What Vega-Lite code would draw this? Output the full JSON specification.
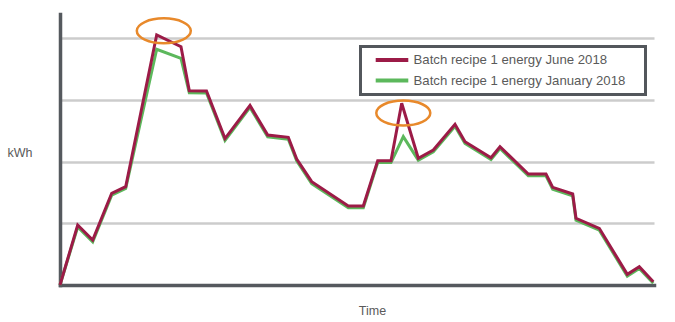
{
  "$schema": "https://vega.github.io/schema/vega-lite/v6.json",
  "width": 594,
  "height": 271,
  "autosize": {"type": "none"},
  "padding": {"left": 60, "top": 14, "right": 21, "bottom": 37},
  "background": "white",
  "config": {
    "view": {"stroke": null},
    "font": "Liberation Sans"
  },
  "datasets": {
    "lines": [
      {"series": "Batch recipe 1 energy January 2018", "time": 0, "kwh": 0},
      {"series": "Batch recipe 1 energy January 2018", "time": 17.7, "kwh": 0.94},
      {"series": "Batch recipe 1 energy January 2018", "time": 32.7, "kwh": 0.70},
      {"series": "Batch recipe 1 energy January 2018", "time": 51.7, "kwh": 1.455},
      {"series": "Batch recipe 1 energy January 2018", "time": 65.7, "kwh": 1.562},
      {"series": "Batch recipe 1 energy January 2018", "time": 96.7, "kwh": 3.818},
      {"series": "Batch recipe 1 energy January 2018", "time": 121, "kwh": 3.671},
      {"series": "Batch recipe 1 energy January 2018", "time": 129.3, "kwh": 3.115},
      {"series": "Batch recipe 1 energy January 2018", "time": 146.5, "kwh": 3.11},
      {"series": "Batch recipe 1 energy January 2018", "time": 165, "kwh": 2.34},
      {"series": "Batch recipe 1 energy January 2018", "time": 190, "kwh": 2.877},
      {"series": "Batch recipe 1 energy January 2018", "time": 207.7, "kwh": 2.40},
      {"series": "Batch recipe 1 energy January 2018", "time": 228.3, "kwh": 2.362},
      {"series": "Batch recipe 1 energy January 2018", "time": 236.7, "kwh": 2.01},
      {"series": "Batch recipe 1 energy January 2018", "time": 251.7, "kwh": 1.643},
      {"series": "Batch recipe 1 energy January 2018", "time": 288.3, "kwh": 1.25},
      {"series": "Batch recipe 1 energy January 2018", "time": 303.3, "kwh": 1.25},
      {"series": "Batch recipe 1 energy January 2018", "time": 317.7, "kwh": 1.983},
      {"series": "Batch recipe 1 energy January 2018", "time": 331, "kwh": 1.983},
      {"series": "Batch recipe 1 energy January 2018", "time": 343.3, "kwh": 2.402},
      {"series": "Batch recipe 1 energy January 2018", "time": 358.3, "kwh": 2.022},
      {"series": "Batch recipe 1 energy January 2018", "time": 373.3, "kwh": 2.156},
      {"series": "Batch recipe 1 energy January 2018", "time": 395, "kwh": 2.572},
      {"series": "Batch recipe 1 energy January 2018", "time": 405, "kwh": 2.291},
      {"series": "Batch recipe 1 energy January 2018", "time": 431, "kwh": 2.032},
      {"series": "Batch recipe 1 energy January 2018", "time": 440, "kwh": 2.21},
      {"series": "Batch recipe 1 energy January 2018", "time": 468.3, "kwh": 1.768},
      {"series": "Batch recipe 1 energy January 2018", "time": 486, "kwh": 1.768},
      {"series": "Batch recipe 1 energy January 2018", "time": 492.7, "kwh": 1.552},
      {"series": "Batch recipe 1 energy January 2018", "time": 512.7, "kwh": 1.444},
      {"series": "Batch recipe 1 energy January 2018", "time": 516, "kwh": 1.05},
      {"series": "Batch recipe 1 energy January 2018", "time": 539.3, "kwh": 0.888},
      {"series": "Batch recipe 1 energy January 2018", "time": 567.3, "kwh": 0.143},
      {"series": "Batch recipe 1 energy January 2018", "time": 579.3, "kwh": 0.266},
      {"series": "Batch recipe 1 energy January 2018", "time": 593.3, "kwh": 0.03},
      {"series": "Batch recipe 1 energy June 2018", "time": 0, "kwh": 0},
      {"series": "Batch recipe 1 energy June 2018", "time": 17.7, "kwh": 0.972},
      {"series": "Batch recipe 1 energy June 2018", "time": 32.7, "kwh": 0.729},
      {"series": "Batch recipe 1 energy June 2018", "time": 51.7, "kwh": 1.485},
      {"series": "Batch recipe 1 energy June 2018", "time": 65.7, "kwh": 1.592},
      {"series": "Batch recipe 1 energy June 2018", "time": 96.7, "kwh": 4.049},
      {"series": "Batch recipe 1 energy June 2018", "time": 121, "kwh": 3.859},
      {"series": "Batch recipe 1 energy June 2018", "time": 129.3, "kwh": 3.147},
      {"series": "Batch recipe 1 energy June 2018", "time": 146.5, "kwh": 3.142},
      {"series": "Batch recipe 1 energy June 2018", "time": 165, "kwh": 2.372},
      {"series": "Batch recipe 1 energy June 2018", "time": 190, "kwh": 2.907},
      {"series": "Batch recipe 1 energy June 2018", "time": 207.7, "kwh": 2.429},
      {"series": "Batch recipe 1 energy June 2018", "time": 228.3, "kwh": 2.392},
      {"series": "Batch recipe 1 energy June 2018", "time": 236.7, "kwh": 2.040},
      {"series": "Batch recipe 1 energy June 2018", "time": 251.7, "kwh": 1.673},
      {"series": "Batch recipe 1 energy June 2018", "time": 288.3, "kwh": 1.279},
      {"series": "Batch recipe 1 energy June 2018", "time": 303.3, "kwh": 1.279},
      {"series": "Batch recipe 1 energy June 2018", "time": 317.7, "kwh": 2.013},
      {"series": "Batch recipe 1 energy June 2018", "time": 331, "kwh": 2.013},
      {"series": "Batch recipe 1 energy June 2018", "time": 341.7, "kwh": 2.943},
      {"series": "Batch recipe 1 energy June 2018", "time": 358.3, "kwh": 2.052},
      {"series": "Batch recipe 1 energy June 2018", "time": 373.3, "kwh": 2.186},
      {"series": "Batch recipe 1 energy June 2018", "time": 395, "kwh": 2.602},
      {"series": "Batch recipe 1 energy June 2018", "time": 405, "kwh": 2.321},
      {"series": "Batch recipe 1 energy June 2018", "time": 431, "kwh": 2.062},
      {"series": "Batch recipe 1 energy June 2018", "time": 440, "kwh": 2.240},
      {"series": "Batch recipe 1 energy June 2018", "time": 468.3, "kwh": 1.798},
      {"series": "Batch recipe 1 energy June 2018", "time": 486, "kwh": 1.798},
      {"series": "Batch recipe 1 energy June 2018", "time": 492.7, "kwh": 1.582},
      {"series": "Batch recipe 1 energy June 2018", "time": 512.7, "kwh": 1.474},
      {"series": "Batch recipe 1 energy June 2018", "time": 516, "kwh": 1.080},
      {"series": "Batch recipe 1 energy June 2018", "time": 539.3, "kwh": 0.918},
      {"series": "Batch recipe 1 energy June 2018", "time": 567.3, "kwh": 0.173},
      {"series": "Batch recipe 1 energy June 2018", "time": 579.3, "kwh": 0.296},
      {"series": "Batch recipe 1 energy June 2018", "time": 593.3, "kwh": 0.053}
    ],
    "highlights": [
      {"time": 103.8, "kwh": 4.117},
      {"time": 343.3, "kwh": 2.785}
    ]
  },
  "layer": [
    {
      "data": {"name": "lines"},
      "transform": [{"filter": "datum.series === 'Batch recipe 1 energy January 2018'"}],
      "mark": {"type": "line", "strokeWidth": 3, "strokeJoin": "miter"},
      "encoding": {
        "x": {
          "field": "time", "type": "quantitative",
          "scale": {"domain": [0, 594], "nice": false, "zero": false},
          "axis": {
            "title": "Time", "labels": false, "ticks": false, "grid": false,
            "domainColor": "#55595e", "domainWidth": 3.5, "domainCap": "square",
            "titleFont": "Liberation Sans", "titleFontSize": 12.5, "titleFontWeight": "normal",
            "titleColor": "#5a5a5a", "titleAnchor": "start", "titleAlign": "center",
            "titleX": 312, "titleY": 29, "titleBaseline": "alphabetic"
          }
        },
        "y": {
          "field": "kwh", "type": "quantitative",
          "scale": {"domain": [0, 4.389], "nice": false},
          "axis": {
            "title": "kWh", "labels": false, "ticks": false, "grid": true,
            "values": [1, 2, 3, 4],
            "gridColor": "#cccccc", "gridWidth": 2.5,
            "domainColor": "#55595e", "domainWidth": 3.5, "domainCap": "square",
            "titleFont": "Liberation Sans", "titleFontSize": 12.5, "titleFontWeight": "normal",
            "titleColor": "#5a5a5a", "titleAngle": 0, "titleAlign": "center",
            "titleX": -40.5, "titleY": 142, "titleBaseline": "alphabetic"
          }
        },
        "color": {
          "field": "series", "type": "nominal",
          "scale": {
            "domain": ["Batch recipe 1 energy June 2018", "Batch recipe 1 energy January 2018"],
            "range": ["#9c1b47", "#5cb85c"]
          },
          "legend": {
            "title": " ", "titleOrient": "right", "titlePadding": 14, "titleFontSize": 13,
            "orient": "none", "legendX": 300.5, "legendY": 32.5,
            "strokeColor": "#53575c", "fillColor": "white",
            "padding": 6, "symbolType": "M-3,0H3", "symbolSize": 118,
            "symbolStrokeWidth": 4, "symbolOffset": 18, "labelOffset": 14,
            "labelFont": "Liberation Sans", "labelFontSize": 13.2, "labelColor": "#5a5a5a",
            "labelLimit": 400,
            "rowPadding": 3.5,
            "encode": {
              "legend": {"update": {"strokeWidth": {"value": 3}}}
            }
          }
        }
      }
    },
    {
      "data": {"name": "lines"},
      "transform": [{"filter": "datum.series === 'Batch recipe 1 energy June 2018'"}],
      "mark": {"type": "line", "strokeWidth": 3, "strokeJoin": "miter"},
      "encoding": {
        "x": {"field": "time", "type": "quantitative"},
        "y": {"field": "kwh", "type": "quantitative"},
        "color": {"field": "series", "type": "nominal"}
      }
    },
    {
      "data": {"name": "highlights"},
      "mark": {
        "type": "point", "filled": false, "stroke": "#e8892b", "strokeWidth": 2.5,
        "opacity": 1, "size": 2916,
        "shape": "M-1,0A1,0.46 0 1 1 1,0A1,0.46 0 1 1 -1,0Z"
      },
      "encoding": {
        "x": {"field": "time", "type": "quantitative"},
        "y": {"field": "kwh", "type": "quantitative"}
      }
    }
  ]
}
